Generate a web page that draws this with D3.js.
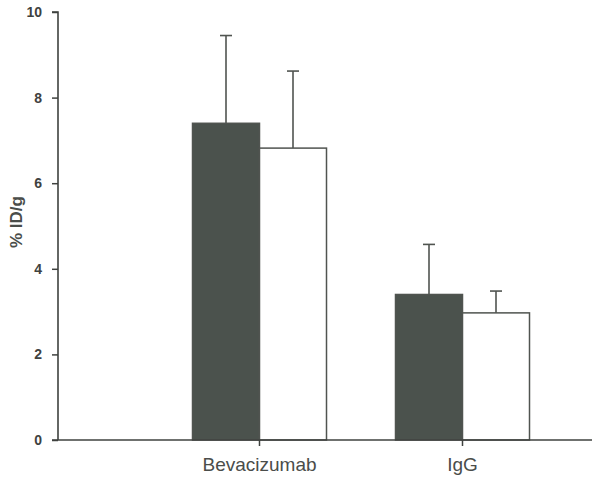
<!DOCTYPE html>
<html>
<head>
<meta charset="utf-8">
<script src="https://cdn.jsdelivr.net/npm/d3@7"></script>
<style>
  html, body { margin: 0; padding: 0; background: #ffffff; }
  svg { display: block; font-family: "Liberation Sans", Arial, sans-serif; }
</style>
</head>
<body>
<svg id="chart" width="592" height="482"></svg>
<script>
// Uptake (% ID/g) per antibody, two groups per antibody
const categories = ["Bevacizumab", "IgG"];
const seriesNames = ["groupA", "groupB"];
const groupAValues = [7.40, 3.40];
const groupBValues = [6.82, 2.97];
const groupAErrors = [2.05, 1.17];
const groupBErrors = [1.80, 0.51];
const yTicks = [0, 2, 4, 6, 8, 10];
const yLabel = "% ID/g";

const rows = categories.map((c, i) => [
  { cat: c, series: "groupA", value: groupAValues[i], err: groupAErrors[i] },
  { cat: c, series: "groupB", value: groupBValues[i], err: groupBErrors[i] }
]).flat();

const svg = d3.select("#chart");
const axisX = 58, baseY = 440, topY = 12;

const y = d3.scaleLinear().domain([0, 10]).range([baseY, topY]);
const x = d3.scaleBand().domain(categories).range([158, 564]).paddingInner(0).paddingOuter(0);
const xs = d3.scaleBand().domain(seriesNames).range([0, 134]);
const groupOffset = (x.bandwidth() - 134) / 2;

const ink = "#505450";
const fills = { groupA: "#4b524d", groupB: "#ffffff" };

// error bars (upper half only)
const eb = svg.append("g").attr("stroke", ink).attr("stroke-width", 1.6).attr("fill", "none");
rows.forEach(d => {
  const cx = x(d.cat) + groupOffset + xs(d.series) + xs.bandwidth() / 2;
  eb.append("line").attr("x1", cx).attr("x2", cx).attr("y1", y(d.value)).attr("y2", y(d.value + d.err));
  eb.append("line").attr("x1", cx - 6).attr("x2", cx + 6).attr("y1", y(d.value + d.err)).attr("y2", y(d.value + d.err));
});

// bars
svg.append("g").selectAll("rect").data(rows).join("rect")
  .attr("x", d => x(d.cat) + groupOffset + xs(d.series))
  .attr("y", d => y(d.value))
  .attr("width", xs.bandwidth())
  .attr("height", d => baseY - y(d.value))
  .attr("fill", d => fills[d.series])
  .attr("stroke", ink)
  .attr("stroke-width", 1.5);

// y axis
const yAxis = d3.axisLeft(y).tickValues(yTicks).tickFormat(d3.format("d")).tickSize(6).tickPadding(10);
const gy = svg.append("g").attr("transform", `translate(${axisX},0)`).call(yAxis);
gy.select(".domain").attr("stroke", "#3f423f").attr("stroke-width", 1.6).attr("d", `M-6,${topY}H0V${baseY}`);
gy.selectAll(".tick line").attr("stroke", "#3f423f").attr("stroke-width", 1.5);
gy.selectAll(".tick text").attr("fill", "#3f423f").attr("font-size", 14).attr("font-weight", "bold")
  .attr("font-family", "Liberation Sans, Arial, sans-serif");

// x axis
const xAxis = d3.axisBottom(x).tickSize(6).tickPadding(12);
const gx = svg.append("g").attr("transform", `translate(0,${baseY})`).call(xAxis);
gx.select(".domain").attr("stroke", "#3f423f").attr("stroke-width", 1.6).attr("d", `M${axisX - 6},0H592`);
gx.selectAll(".tick line").attr("stroke", "#3f423f").attr("stroke-width", 1.5);
gx.selectAll(".tick text").attr("fill", "#4a4d4a").attr("font-size", 19)
  .attr("font-family", "Liberation Sans, Arial, sans-serif");

// y label
svg.append("text")
  .attr("transform", "translate(22,222) rotate(-90)")
  .attr("text-anchor", "middle")
  .attr("fill", "#4a4d4a")
  .attr("font-size", 17)
  .attr("font-weight", "bold")
  .text(yLabel);
</script>
</body>
</html>
